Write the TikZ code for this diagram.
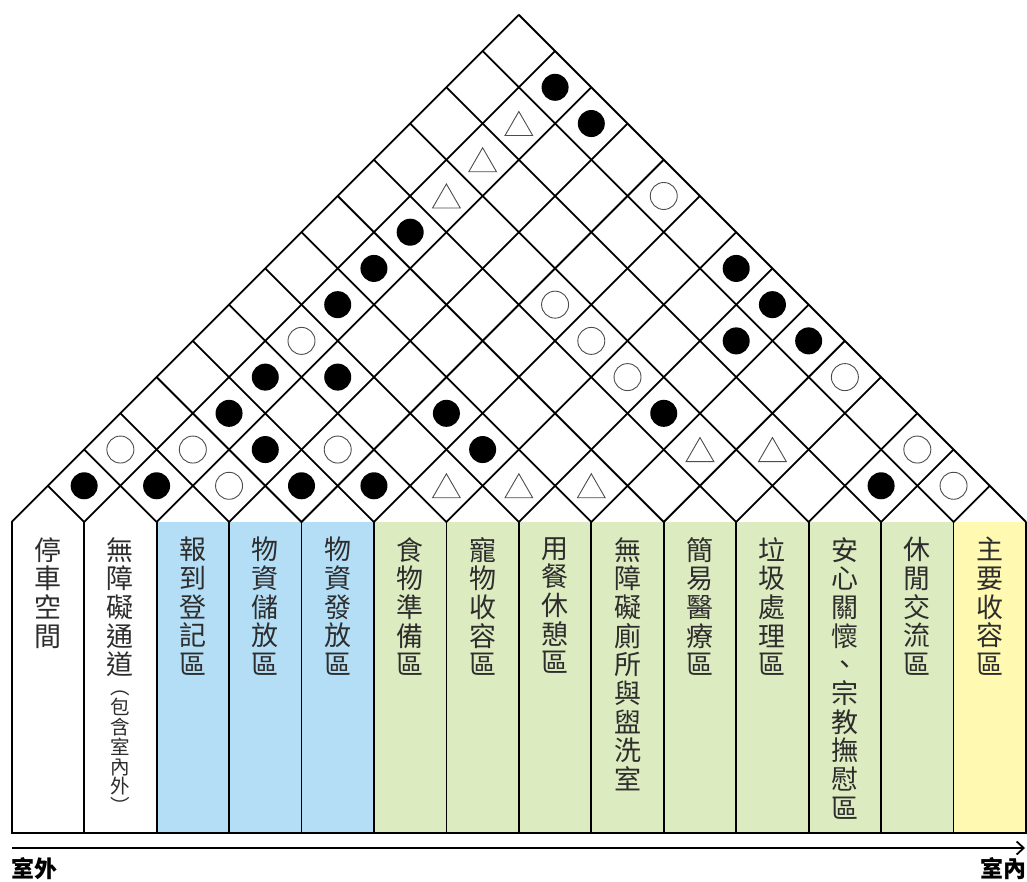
\documentclass[tikz,border=0pt]{standalone}
\usepackage{fontspec}
\setmainfont{Noto Sans CJK TC}
\usetikzlibrary{shapes.geometric,arrows.meta}
\definecolor{cblue}{RGB}{180,222,245}
\definecolor{cgreen}{RGB}{221,235,192}
\definecolor{cyellow}{RGB}{255,249,178}
\definecolor{ctext}{RGB}{45,45,45}
\begin{document}
\begin{tikzpicture}[x=1pt,y=-1pt,
  gridline/.style={line width=1.8pt, line join=miter},
  symB/.style={circle, fill=black, minimum size=27pt, inner sep=0pt},
  symC/.style={circle, draw=black!70, line width=0.9pt, minimum size=27pt, inner sep=0pt},
  symT/.style={regular polygon, regular polygon sides=3, draw=black!70, line width=0.9pt, minimum size=32pt, inner sep=0pt, yshift=-4pt},
  lab/.style={anchor=north, inner sep=0pt, align=center, text=ctext, font=\fontsize{27}{28.7}\selectfont},
  sublab/.style={anchor=north, inner sep=0pt, align=center, text=ctext, font=\fontsize{19.5}{19.8}\selectfont},
  side/.style={inner sep=0pt, font=\fontsize{23}{26}\selectfont\bfseries}
]
\useasboundingbox (0,0) rectangle (1027,881);
\def\W{72.45}
\def\XO{11.7}
\def\YT{522}
\def\YB{833}
% column fills
\foreach \k/\col in {0/white,1/white,2/cblue,3/cblue,4/cblue,5/cgreen,6/cgreen,7/cgreen,8/cgreen,9/cgreen,10/cgreen,11/cgreen,12/cgreen,13/cyellow}
  \fill[\col] ({\XO+\k*\W},\YT) rectangle ({\XO+(\k+1)*\W},\YB);
% column lines
\foreach \k in {0,...,14}
  \draw[gridline] ({\XO+\k*\W},\YT) -- ({\XO+\k*\W},\YB);
\draw[gridline, line cap=rect] (\XO,\YB) -- ({\XO+14*\W},\YB);
% diagonal grid
\foreach \k in {0,...,14}
  \draw[gridline] ({\XO+\k*\W/2},{\YT-\k*\W/2}) -- ({\XO+\k*\W},\YT) -- ({\XO+(\k+14)*\W/2},{\YT-(14-\k)*\W/2});
% symbols
\foreach \i/\j/\t [count=\n] in {
  0/1/B,1/2/B,3/4/B,4/5/B,11/12/B,2/4/B,5/7/B,1/4/B,4/7/B,7/10/B,1/5/B,2/6/B,7/12/B,8/13/B,1/7/B,7/13/B,1/8/B,6/13/B,1/9/B,2/13/B,1/13/B,
  2/3/C,12/13/C,0/2/C,1/3/C,3/5/C,11/13/C,6/10/C,9/13/C,1/6/C,5/10/C,4/10/C,4/13/C,
  5/6/T,6/7/T,7/8/T,8/10/T,9/11/T,1/10/T,1/11/T,1/12/T}{
  \pgfmathsetmacro\cx{\XO+\W/2*(\i+\j+1)}
  \pgfmathsetmacro\cy{\YT-\W/2*(\j-\i)}
  \node[sym\t] (s\n) at (\cx,\cy) {};
}
% labels
\node[lab] (t1) at ({\XO+0.5*\W},537) {停\\車\\空\\間};
\node[lab] (t2) at ({\XO+1.5*\W},537) {無\\障\\礙\\通\\道};
\node[sublab] (t2b) at ({\XO+1.5*\W},691) {︵\\包\\含\\室\\內\\外\\︶};
\node[lab] (t3) at ({\XO+2.5*\W},537) {報\\到\\登\\記\\區};
\node[lab] (t4) at ({\XO+3.5*\W},537) {物\\資\\儲\\放\\區};
\node[lab] (t5) at ({\XO+4.5*\W},537) {物\\資\\發\\放\\區};
\node[lab] (t6) at ({\XO+5.5*\W},537) {食\\物\\準\\備\\區};
\node[lab] (t7) at ({\XO+6.5*\W},537) {寵\\物\\收\\容\\區};
\node[lab] (t8) at ({\XO+7.5*\W},537) {用\\餐\\休\\憩\\區};
\node[lab] (t9) at ({\XO+8.5*\W},537) {無\\障\\礙\\廁\\所\\與\\盥\\洗\\室};
\node[lab] (t10) at ({\XO+9.5*\W},537) {簡\\易\\醫\\療\\區};
\node[lab] (t11) at ({\XO+10.5*\W},537) {垃\\圾\\處\\理\\區};
\node[lab] (t12) at ({\XO+11.5*\W},537) {安\\心\\關\\懷\\、\\宗\\教\\撫\\慰\\區};
\node[lab] (t13) at ({\XO+12.5*\W},537) {休\\閒\\交\\流\\區};
\node[lab] (t14) at ({\XO+13.5*\W},537) {主\\要\\收\\容\\區};
% axis
\coordinate (aS) at (12,848);
\coordinate (aE) at (1025,848);
\draw[line width=1.8pt, -{Straight Barb[length=7pt,width=13pt]}] (aS) -- (aE);
\node[side, anchor=west] (out) at (11,869) {室外};
\node[side, anchor=east] (in) at (1027,869) {室內};
\end{tikzpicture}
\end{document}
